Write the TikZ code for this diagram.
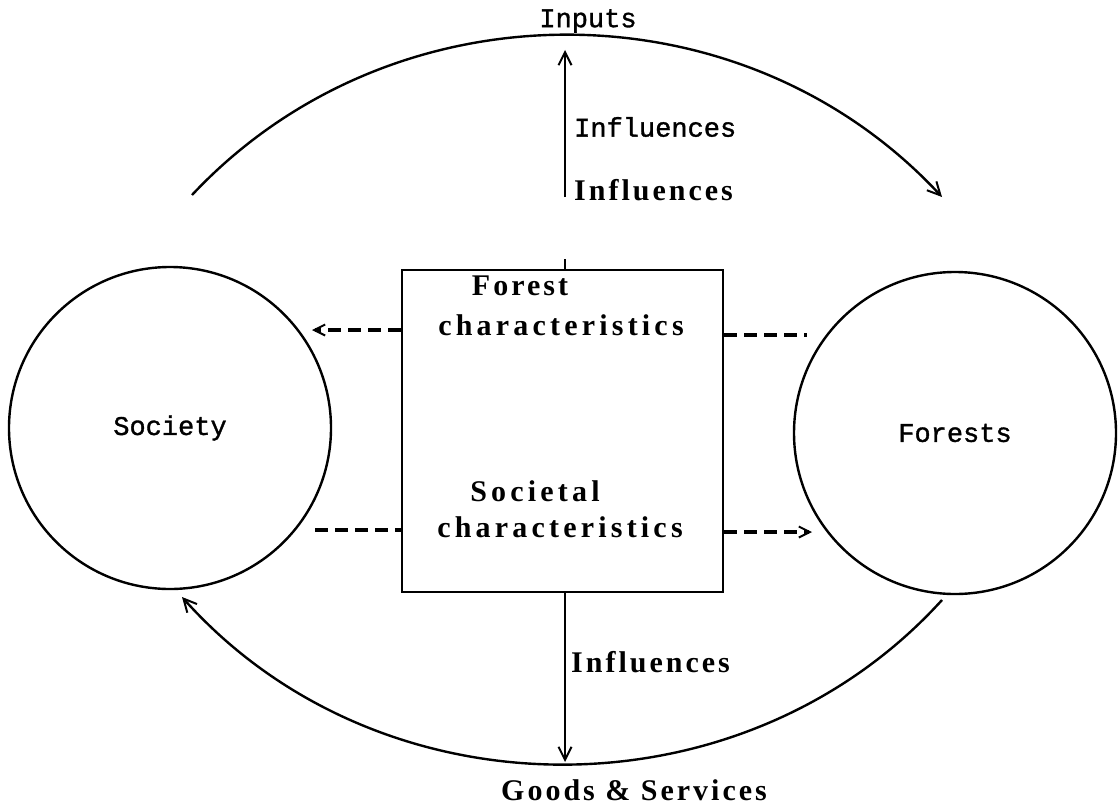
\documentclass[tikz,border=0pt]{standalone}
\usepackage{fontspec}
\setmainfont{Liberation Serif}
\newfontfamily\twf[FakeBold=1.2]{Liberation Mono}
\newfontfamily\bsA[LetterSpace=10]{Liberation Serif}
\newfontfamily\bsB[LetterSpace=14]{Liberation Serif}
\usetikzlibrary{arrows.meta,calc}
\begin{document}
\begin{tikzpicture}[x=1pt,y=-1pt,line width=2.4pt,
  tip/.style={-{Straight Barb[length=13pt,width=13pt,line width=2pt]}},
  dsh/.style={line width=3.4pt,dash pattern=on 13pt off 7pt},
  dtip/.style={-{Straight Barb[length=11pt,width=11pt,line width=2pt]}},
  ring/.style={draw,circle,minimum size=322pt,inner sep=0pt,line width=2.4pt,
    font={\twf\fontsize{27}{30}\selectfont}},
  tw/.style={inner sep=0pt,font={\twf\fontsize{27}{30}\selectfont}},
  bA/.style={inner sep=0pt,font={\bsA\bfseries\fontsize{30}{34}\selectfont}},
  bB/.style={inner sep=0pt,font={\bsB\bfseries\fontsize{30}{34}\selectfont}}]
\useasboundingbox (0,0) rectangle (1118,808);
% circles
\node[ring] (soc) at (170,428) {Society};
\node[ring] (for) at (955,433) {Forests};
% central box
\node[draw,line width=2.8pt,minimum width=321pt,minimum height=322pt,inner sep=0pt] (box) at (562.5,431) {};
\node[bA] (fc1) at (520,286) {Forest};
\node[bB] (fc2) at (561,325) {characteristics};
\node[bB] (sc1) at (535,491) {Societal};
\node[bB] (sc2) at (560,527) {characteristics};
% top arc
\coordinate (tl) at (192,195);
\coordinate (tr) at (942,197);
\draw[tip] (tl) to[bend left=47] (tr);
\node[tw] (inp) at (588,21) {Inputs};
% top vertical arrow
\coordinate (vb) at (565,197);
\coordinate (vt) at (565,50);
\draw[tip] (vb) -- (vt);
\node[tw,anchor=west] (inf1) at (573,127) {Influences};
\node[bA,anchor=west] (inf2) at (573,190) {Influences};
\coordinate (stub) at (565,259);
\draw (stub) -- (stub |- box.north);
% dashed connectors
\coordinate (sa) at (312,330);
\coordinate (fa) at (807,335);
\coordinate (sb) at (315,530);
\coordinate (fb) at (812,532);
\draw[dsh,dtip] (box.west |- sa) -- (sa);
\draw[dsh] (box.east |- fa) -- (fa);
\draw[dsh] (sb) -- (box.west |- sb);
\draw[dsh,dtip] (box.east |- fb) -- (fb);
% bottom
\coordinate (gb) at (565,762);
\draw[tip] (gb |- box.south) -- (gb);
\node[bA,anchor=west] (inf3) at (570,662) {Influences};
\coordinate (br) at (942,600);
\coordinate (bl) at (182,597);
\draw[tip] (br) to[bend left=48] (bl);
\node[bA] (gs) at (634,790) {Goods \& Services};
\end{tikzpicture}
\end{document}
